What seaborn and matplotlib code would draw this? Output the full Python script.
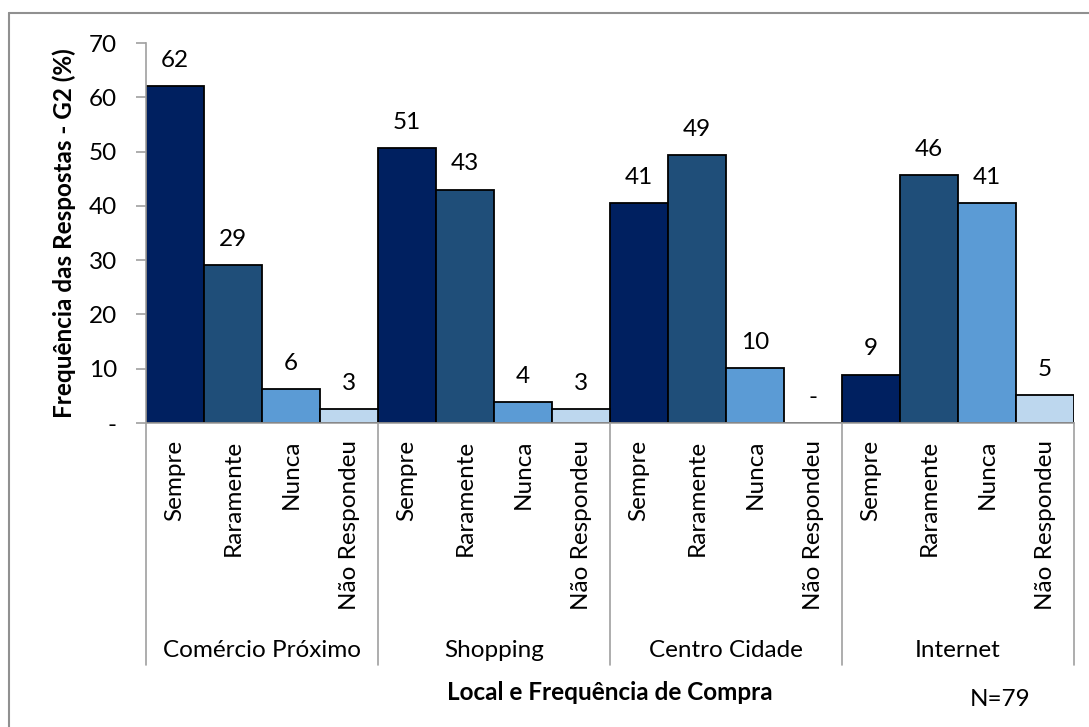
import pandas as pd
import matplotlib.pyplot as plt
import seaborn as sns
from matplotlib.lines import Line2D

# dados (N=79)
locais = ['Comércio Próximo', 'Shopping', 'Centro Cidade', 'Internet']
frequencias = ['Sempre', 'Raramente', 'Nunca', 'Não Respondeu']
comercio = [62.0, 29.1, 6.3, 2.5]
shopping = [50.6, 43.0, 3.8, 2.5]
centro = [40.5, 49.4, 10.1, 0.0]
internet = [8.9, 45.6, 40.5, 5.1]
cores = ['#002060', '#1F4E79', '#5B9BD5', '#BDD7EE']

valores = [comercio, shopping, centro, internet]
linhas = []
for loc, vals in zip(locais, valores):
    for freq, v in zip(frequencias, vals):
        linhas.append({'Local': loc, 'Freq': freq, 'Valor': v, 'Pos': loc + ' | ' + freq})
df = pd.DataFrame(linhas)

sns.set_style('white')
plt.rcParams['font.family'] = ['Lato', 'DejaVu Sans']
plt.rcParams['text.color'] = 'black'
plt.rcParams['axes.labelcolor'] = 'black'
plt.rcParams['xtick.color'] = 'black'
plt.rcParams['ytick.color'] = 'black'

FS = 17.5

fig = plt.figure(figsize=(10.89, 7.27), dpi=100)
ax = fig.add_axes([146 / 1089, 1 - 423 / 727, 928 / 1089, 380 / 727])

sns.barplot(data=df, x='Pos', y='Valor', hue='Freq', hue_order=frequencias,
            palette=cores, saturation=1, dodge=False, width=1.0, edgecolor='black',
            linewidth=1.3, legend=False, ax=ax)

# rótulos dos valores
for i, v in enumerate(df['Valor']):
    txt = '-' if v == 0 else str(int(v + 0.5))
    ax.annotate(txt, (i, v), xytext=(0, 11), textcoords='offset points',
                ha='center', va='bottom', fontsize=FS)

ax.set_xlim(-0.5, len(df) - 0.5)
ax.set_ylim(0, 70)
ax.set_yticks(range(0, 71, 10))
ax.set_yticklabels(['-'] + [str(t) for t in range(10, 71, 10)], fontsize=FS)
ax.tick_params(axis='y', which='both', left=True, length=7, color='#a0a0a0', width=1.2, pad=14)
ax.set_xticks(range(len(df)))
ax.set_xticklabels(df['Freq'], rotation=90, fontsize=FS, va='top')
ax.tick_params(axis='x', length=0, pad=12)

for s in ['top', 'right']:
    ax.spines[s].set_visible(False)
for s in ['left', 'bottom']:
    ax.spines[s].set_color('#a0a0a0')
    ax.spines[s].set_linewidth(1.2)

ax.set_xlabel('')
ax.set_ylabel('Frequência das Respostas - G2 (%)', fontsize=FS, fontweight='bold')
ax.yaxis.set_label_coords((76 - 146) / 928, 0.5)

# separadores dos grupos e nomes dos locais
tr = ax.get_xaxis_transform()
for k in range(len(locais) + 1):
    x = k * 4 - 0.5
    ax.add_line(Line2D([x, x], [0, -(665 - 423) / 380], transform=tr,
                       color='#a0a0a0', lw=1.2, clip_on=False))
for k, loc in enumerate(locais):
    ax.text(k * 4 + 1.5, -(650 - 423) / 380, loc, transform=tr,
            ha='center', va='center', fontsize=FS)

fig.text(610 / 1089, 1 - 692 / 727, 'Local e Frequência de Compra',
         ha='center', va='center', fontsize=FS, fontweight='bold')
fig.text(1000 / 1089, 1 - 700 / 727, 'N=79', ha='center', va='center', fontsize=FS)

# moldura do gráfico
fig.add_artist(Line2D([9 / 1089, 1.2], [1 - 13 / 727, 1 - 13 / 727],
                      transform=fig.transFigure, color='#909090', lw=1.5))
fig.add_artist(Line2D([9 / 1089, 9 / 1089], [1 - 13 / 727, -0.2],
                      transform=fig.transFigure, color='#909090', lw=1.5))

fig.savefig('out.png', dpi=100)
